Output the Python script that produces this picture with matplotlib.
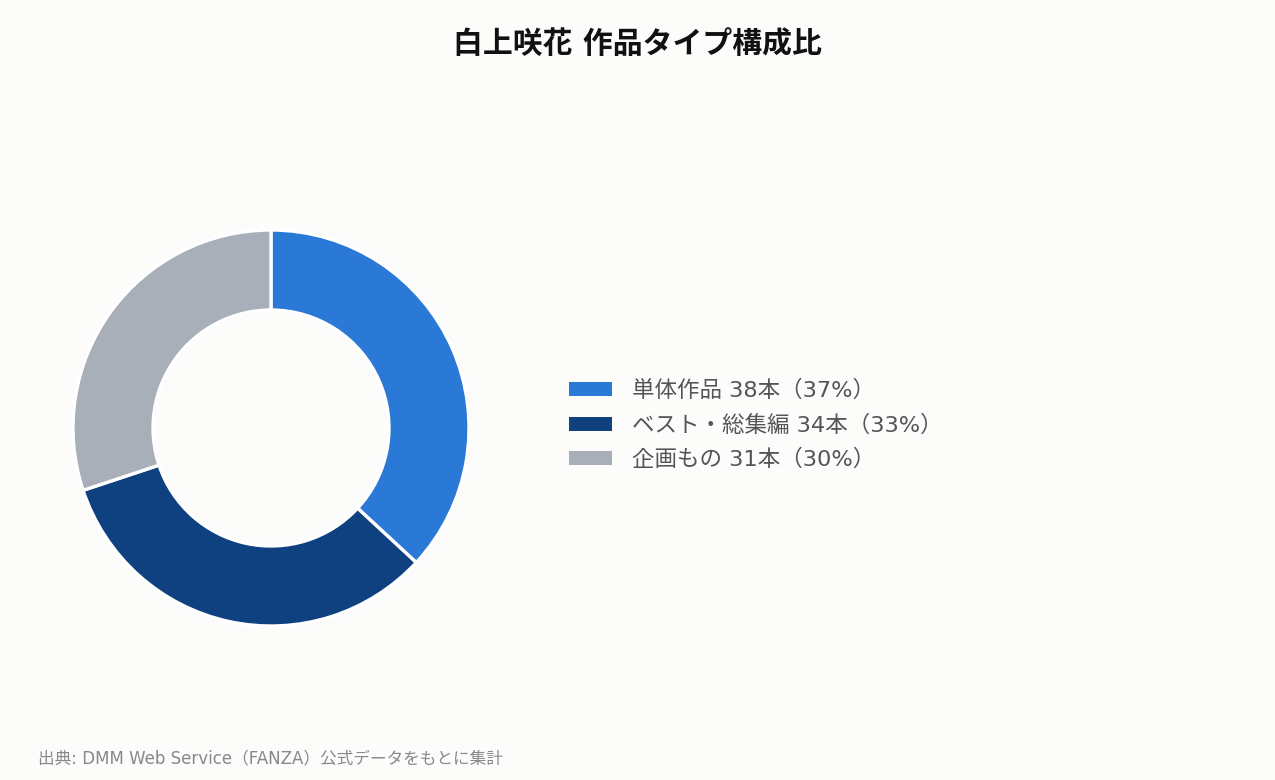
import matplotlib
matplotlib.use("Agg")
import matplotlib.pyplot as plt

plt.rcParams["font.family"] = ["DejaVu Sans", "Noto Sans CJK JP"]

# -----------------------
# Data
# -----------------------
title = "白上咲花 作品タイプ構成比"
categories = ["単体作品", "ベスト・総集編", "企画もの"]
counts = [38, 34, 31]
percents = [37, 33, 30]
colors = ["#2B79D6", "#0F407F", "#A8AFB8"]
source = "出典: DMM Web Service（FANZA）公式データをもとに集計"

W, H = 1275, 780
BG = "#FCFCFB"

fig = plt.figure(figsize=(W / 100, H / 100), dpi=100, facecolor=BG)

# donut axes: centre (271, 428) px, outer radius 198 px
cx, cy, r_px = 271, 428, 198
pad = 202
ax = fig.add_axes([(cx - pad) / W, (H - cy - pad) / H, 2 * pad / W, 2 * pad / H])
ax.set_facecolor(BG)

wedges, _ = ax.pie(
    counts,
    colors=colors,
    startangle=90,
    counterclock=False,
    radius=1.0,
    wedgeprops=dict(width=1 - 118 / r_px, edgecolor="white", linewidth=2.4),
)
lim = pad / r_px
ax.set_xlim(-lim, lim)
ax.set_ylim(-lim, lim)
ax.set_aspect("equal")
ax.axis("off")

labels = [f"{c} {n}本（{p}%）" for c, n, p in zip(categories, counts, percents)]
leg = fig.legend(
    wedges,
    labels,
    loc="center left",
    bbox_to_anchor=(560 / W, 1 - 425 / H),
    frameon=False,
    fontsize=16.2,
    handlelength=1.9,
    handleheight=0.6,
    handletextpad=0.9,
    labelspacing=0.58,
    borderaxespad=0,
)
for t in leg.get_texts():
    t.set_color("#555555")
for h in leg.legend_handles:
    h.set_edgecolor("none")

fig.text(0.5, 1 - 44 / H, title, ha="center", va="center",
         fontsize=21.5, fontweight="bold", color="#111111")
fig.text(38 / W, 1 - 758 / H, source, ha="left", va="center",
         fontsize=12, color="#888888")

fig.savefig("out.png", dpi=100, facecolor=BG)
